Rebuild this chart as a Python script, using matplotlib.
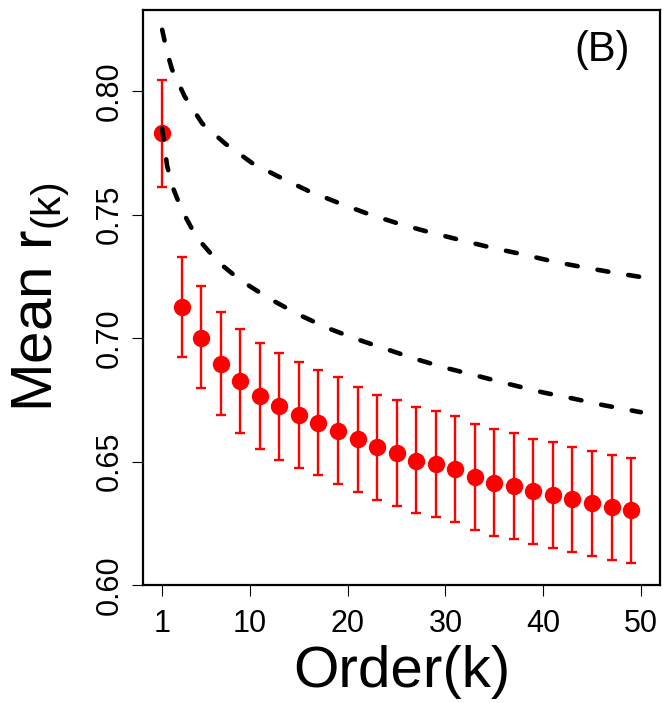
import matplotlib
matplotlib.use("Agg")
import matplotlib.pyplot as plt

plt.rcParams['font.family'] = ['Liberation Sans', 'DejaVu Sans']
plt.rcParams['mathtext.default'] = 'regular'

# ordre k et moyenne observée avec barres d'erreur
order_k = [1, 3, 5, 7, 9, 11, 13, 15, 17, 19, 21, 23, 25, 27, 29, 31, 33, 35, 37, 39, 41, 43, 45, 47, 49]
mean_r = [0.7830, 0.7125, 0.7002, 0.6895, 0.6827, 0.6766, 0.6724, 0.6688, 0.6658, 0.6625,
          0.6592, 0.6558, 0.6536, 0.6504, 0.6490, 0.6469, 0.6439, 0.6415, 0.6402, 0.6381,
          0.6365, 0.6347, 0.6332, 0.6315, 0.6304]
err_hi = [0.8045, 0.7330, 0.7212, 0.7107, 0.7039, 0.6981, 0.6941, 0.6904, 0.6871, 0.6842,
          0.6803, 0.6771, 0.6751, 0.6720, 0.6706, 0.6685, 0.6653, 0.6633, 0.6615, 0.6593,
          0.6579, 0.6561, 0.6544, 0.6528, 0.6515]
err_lo = [0.7614, 0.6922, 0.6800, 0.6687, 0.6616, 0.6552, 0.6506, 0.6474, 0.6444, 0.6409,
          0.6377, 0.6343, 0.6321, 0.6291, 0.6274, 0.6255, 0.6224, 0.6199, 0.6185, 0.6165,
          0.6150, 0.6134, 0.6118, 0.6103, 0.6090]

# courbes en tirets
upper_k = [1, 1.5, 2, 3.3, 5.1, 7.5, 10.2, 12.8, 16, 19.2, 22.2, 25.3, 28.4, 31.6, 34.8, 38, 41.1, 44.3, 47.6, 50]
upper_r = [0.825, 0.816, 0.809, 0.798, 0.787, 0.7787, 0.771, 0.7657, 0.7596, 0.7546,
           0.7502, 0.7463, 0.7429, 0.7397, 0.7366, 0.7339, 0.7310, 0.7286, 0.7263, 0.7248]
lower_k = [1, 1.5, 2, 3, 4.5, 6.7, 9, 12, 15, 18, 21, 24, 27, 30, 33.4, 36.5, 40, 43, 46, 50]
lower_r = [0.785, 0.770, 0.762, 0.752, 0.741, 0.731, 0.7235, 0.716, 0.7095, 0.704,
           0.6995, 0.6955, 0.6915, 0.688, 0.6846, 0.6814, 0.678, 0.6756, 0.673, 0.670]

xticks = [1, 10, 20, 30, 40, 50]
yticks = [0.60, 0.65, 0.70, 0.75, 0.80]

fig = plt.figure(figsize=(6.63, 7.03), dpi=100)
ax = fig.add_axes([0.2157, 0.1679, 0.7798, 0.8179])

yerr = [[m - lo for m, lo in zip(mean_r, err_lo)], [hi - m for m, hi in zip(mean_r, err_hi)]]
ax.errorbar(order_k, mean_r, yerr=yerr, fmt='o', color='#ff0000', ecolor='#ff0000',
            markersize=11.5, elinewidth=1.7, capsize=3.8, capthick=1.7, zorder=2)

dash = (0, (2.4, 4.4))
for kk, rr in [(upper_k, upper_r), (lower_k, lower_r)]:
    ax.plot(kk, rr, color='black', lw=3.3, linestyle=dash, dash_capstyle='round', zorder=3)

ax.set_xlim(-0.96, 51.96)
ax.set_ylim(0.60, 0.833)
ax.set_xticks(xticks)
ax.set_yticks(yticks)
ax.set_yticklabels([f"{v:.2f}" for v in yticks], rotation=90, va='center')
ax.tick_params(axis='both', direction='out', length=8, width=0.8, labelsize=22)
ax.tick_params(axis='x', pad=9)
ax.tick_params(axis='y', pad=5)
for s in ax.spines.values():
    s.set_linewidth(1.6)

ax.set_xlabel('Order(k)', fontsize=42)
ax.xaxis.set_label_coords(0.5, -0.151)
ax.xaxis.label.set_va('center')
ax.set_ylabel('Mean r$_{(k)}$', fontsize=42)
ax.yaxis.set_label_coords(-0.197, 0.50)
ax.yaxis.label.set_va('center')

ax.text(0.888, 0.930, '(B)', transform=ax.transAxes, fontsize=30, ha='center', va='center')

fig.savefig('out.png', dpi=100)
